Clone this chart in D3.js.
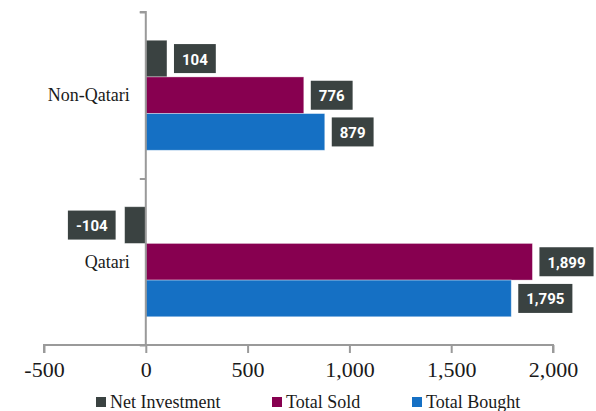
<!DOCTYPE html>
<html>
<head>
<meta charset="utf-8">
<script src="https://cdn.jsdelivr.net/npm/d3@7"></script>
<style>
  html, body { margin: 0; padding: 0; background: #ffffff; }
  svg { display: block; }
</style>
</head>
<body>
<svg id="chart" width="596" height="411"></svg>
<script>
const categories = ["Non-Qatari", "Qatari"];
const seriesNames = ["Net Investment", "Total Sold", "Total Bought"];
const netInvestment = [104, -104];
const totalSold = [776, 1899];
const totalBought = [879, 1795];
const xTicks = [-500, 0, 500, 1000, 1500, 2000];
const colors = ["#3a4241", "#870050", "#1570c4"];

const seriesValues = [netInvestment, totalSold, totalBought];

const fmt = v => d3.format(",")(v).replace("\u2212", "-");

const svg = d3.select("#chart");

const x = d3.scaleLinear().domain([-500, 2000]).range([44, 553]);
const y = d3.scaleBand().domain(categories).range([12, 345]).padding(0);
const ySub = d3.scaleBand().domain(seriesNames).range([0, y.bandwidth()]).paddingInner(0).paddingOuter(0.77);

const axisColor = "#9a9a9a";

// bars
const data = [];
categories.forEach((c, ci) => {
  seriesNames.forEach((s, si) => {
    data.push({cat: c, series: s, value: seriesValues[si][ci], color: colors[si]});
  });
});

const g = svg.append("g");
g.selectAll("rect.bar").data(data).enter().append("rect")
  .attr("class", "bar")
  .attr("x", d => x(Math.min(0, d.value)))
  .attr("width", d => Math.abs(x(d.value) - x(0)))
  .attr("y", d => y(d.cat) + ySub(d.series))
  .attr("height", ySub.bandwidth())
  .attr("fill", d => d.color)
  .attr("stroke", "rgba(255,255,255,0.45)")
  .attr("stroke-width", 0.8);

// x axis
const xAxis = d3.axisBottom(x).tickValues(xTicks).tickSize(8).tickPadding(8)
  .tickFormat(fmt);
const xg = svg.append("g").attr("transform", "translate(0,345)").call(xAxis);
xg.select(".domain").attr("stroke", axisColor).attr("stroke-width", 2)
  .attr("d", `M${x(-500)},8V0H${x(2000)}V8`);
xg.selectAll(".tick line").attr("stroke", axisColor).attr("stroke-width", 2);
xg.selectAll(".tick text")
  .attr("fill", "#1a1a1a")
  .style("font-family", "'Liberation Serif', serif")
  .style("font-size", "22px");

// y axis at x=0
const yAxisScale = d3.scalePoint().domain(["a","b","c"]).range([12, 345]);
const yAxis = d3.axisLeft(yAxisScale).tickSize(6).tickFormat("");
const yg = svg.append("g").attr("transform", `translate(${x(0)},0)`).call(yAxis);
yg.select(".domain").attr("stroke", axisColor).attr("stroke-width", 2)
  .attr("d", `M-6,12H0V345H-6`);
yg.selectAll(".tick line").attr("stroke", axisColor).attr("stroke-width", 2);

// category labels
svg.selectAll("text.cat").data(categories).enter().append("text")
  .attr("class", "cat")
  .attr("x", x(0) - 16)
  .attr("y", d => y(d) + y.bandwidth() / 2)
  .attr("text-anchor", "end")
  .attr("dominant-baseline", "central")
  .attr("fill", "#1a1a1a")
  .style("font-family", "'Liberation Serif', serif")
  .style("font-size", "18px")
  .text(d => d);

// value labels
const lab = svg.append("g");
data.forEach(d => {
  const cy = y(d.cat) + ySub(d.series) + ySub.bandwidth() / 2;
  const lg = lab.append("g");
  const t = lg.append("text")
    .attr("fill", "#ffffff")
    .attr("font-weight", "bold")
    .attr("dominant-baseline", "central")
    .attr("text-anchor", "middle")
    .style("font-family", "Roboto, sans-serif")
    .style("font-size", "15px")
    .text(fmt(d.value));
  const tw = t.node().getComputedTextLength();
  const bw = tw + 16, bh = 29;
  let bx;
  if (d.value >= 0) bx = x(d.value) + 7;
  else bx = x(d.value) - 9 - bw;
  lg.insert("rect", "text")
    .attr("x", bx).attr("y", cy - bh / 2)
    .attr("width", bw).attr("height", bh)
    .attr("fill", "#3a4241");
  t.attr("x", bx + bw / 2).attr("y", cy + 1);
});

// legend
const legendX = [96, 272, 412];
const leg = svg.append("g");
seriesNames.forEach((s, i) => {
  leg.append("rect")
    .attr("x", legendX[i]).attr("y", 397)
    .attr("width", 10).attr("height", 10)
    .attr("fill", colors[i]);
  leg.append("text")
    .attr("x", legendX[i] + 14).attr("y", 402)
    .attr("dominant-baseline", "central")
    .attr("fill", "#1a1a1a")
    .style("font-family", "'Liberation Serif', serif")
    .style("font-size", "18px")
    .text(s);
});
</script>
</body>
</html>
